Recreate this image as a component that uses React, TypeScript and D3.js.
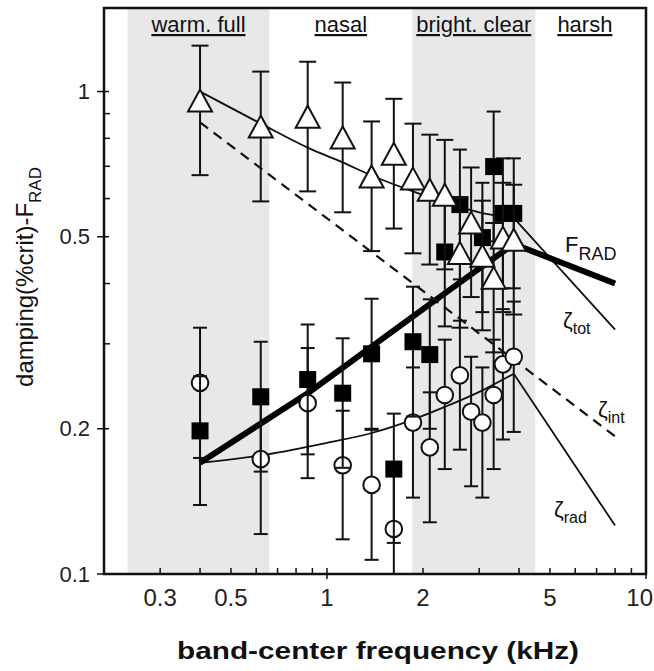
import React from "react";
import * as d3 from "d3";

// ---------- data ----------
const FREQ = [0.4, 0.62, 0.87, 1.12, 1.38, 1.62, 1.86, 2.1, 2.34, 2.61, 2.83, 3.07, 3.33, 3.56, 3.85];

// open triangles (measured total damping)
const TRI = [0.958, 0.846, 0.887, 0.803, 0.667, 0.743, 0.66, 0.626, 0.611, 0.463, 0.535, 0.457, 0.411, 0.498, 0.493];
const TRI_LO = [0.671, 0.592, 0.621, 0.562, 0.467, 0.52, 0.462, 0.438, 0.428, 0.324, 0.375, 0.32, 0.288, 0.349, 0.345];
const TRI_HI = [1.245, 1.1, 1.153, 1.044, 0.867, 0.966, 0.858, 0.814, 0.794, 0.602, 0.696, 0.594, 0.534, 0.647, 0.641];

// filled squares (F_RAD)
const SQ = [0.198, 0.233, 0.253, 0.237, 0.286, 0.165, 0.303, 0.285, 0.465, 0.583, null, 0.498, 0.699, 0.559, 0.559];
const SQ_LO = [0.139, 0.163, 0.177, 0.166, 0.2, 0.116, 0.212, 0.2, 0.326, 0.408, null, 0.349, 0.489, 0.391, 0.391];
const SQ_HI = [0.257, 0.303, 0.329, 0.308, 0.372, 0.215, 0.394, 0.371, 0.605, 0.758, null, 0.647, 0.909, 0.727, 0.727];

// open circles (radiation damping)
const CIR = [0.249, 0.173, 0.226, 0.168, 0.153, 0.124, 0.206, 0.183, 0.235, 0.258, 0.217, 0.206, 0.235, 0.272, 0.282];
const CIR_LO = [0.174, 0.121, 0.158, 0.118, 0.107, 0.087, 0.144, 0.128, 0.165, 0.181, 0.152, 0.144, 0.165, 0.19, 0.197];
const CIR_HI = [0.324, 0.225, 0.294, 0.218, 0.199, 0.161, 0.268, 0.238, 0.306, 0.335, 0.282, 0.268, 0.306, 0.354, 0.367];

// model curves: rising part (smooth) and falling part (straight) above the peak
const ZTOT_F = [0.4, 0.62, 0.87, 1.12, 1.38, 1.86, 2.34, 3.0, 3.85];
const ZTOT_V = [1.0, 0.858, 0.765, 0.713, 0.67, 0.621, 0.589, 0.562, 0.547];
const ZTOT_TAIL_F = [3.85, 8];
const ZTOT_TAIL_V = [0.547, 0.321];
const ZINT_F = [0.4, 8];
const ZINT_V = [0.863, 0.193];
const ZRAD_F = [0.4, 0.65, 1.0, 1.38, 1.86, 2.34, 3.06, 3.85];
const ZRAD_V = [0.17, 0.177, 0.187, 0.196, 0.209, 0.222, 0.24, 0.26];
const ZRAD_TAIL_F = [3.85, 8];
const ZRAD_TAIL_V = [0.26, 0.126];
const FRAD_F = [0.4, 0.87, 1.38, 2.0, 2.83, 3.85];
const FRAD_V = [0.17, 0.237, 0.296, 0.354, 0.418, 0.483];
const FRAD_TAIL_F = [3.85, 8];
const FRAD_TAIL_V = [0.483, 0.4];

// regions
const REGION_LABELS = ["warm. full", "nasal", "bright. clear", "harsh"];
const REGION_FROM = [0.237, 0.66, 1.85, 4.5];
const REGION_TO = [0.66, 1.85, 4.5, 9.2];
const REGION_SHADED = [true, false, true, false];

// ticks
const Y_MAJOR = [0.1, 0.2, 0.5, 1];
const Y_MINOR = [0.3, 0.4, 0.6, 0.7, 0.8, 0.9];
const X_MAJOR = [0.3, 0.5, 1, 2, 5, 10];
const X_MINOR = [0.4, 0.6, 0.7, 0.8, 0.9, 3, 4, 6, 7, 8, 9];

const FONT = "'Liberation Sans', Arial, Helvetica, sans-serif";

export default function App() {
  const W = 654, H = 671;
  const L = 104, R = 646, T = 8, B = 574;
  const x = d3.scaleLog().domain([0.2, 10]).range([L, R]);
  const y = d3.scaleLog().domain([0.1, 1.49]).range([B, T]);

  const mkLine = (fs: number[], vs: number[], smooth: boolean) =>
    d3.line<number>().x((_, i) => x(fs[i])).y((v) => y(v))
      .curve(smooth ? d3.curveMonotoneX : d3.curveLinear)(vs) || "";

  const errBars = (vals: (number | null)[], lo: (number | null)[], hi: (number | null)[], cap: number, key: string) =>
    vals.map((v, i) => {
      if (v == null) return null;
      const cx = x(FREQ[i]);
      const yl = y(Math.max(lo[i] as number, 0.1));
      const yh = y(hi[i] as number);
      return (
        <g key={key + i} stroke="#111" strokeWidth={2}>
          <line x1={cx} x2={cx} y1={yh} y2={yl} />
          <line x1={cx - cap / 2} x2={cx + cap / 2} y1={yh} y2={yh} />
          {(lo[i] as number) >= 0.1 && <line x1={cx - cap / 2} x2={cx + cap / 2} y1={yl} y2={yl} />}
        </g>
      );
    });

  return (
    <svg width={W} height={H} style={{ position: "absolute", left: 0, top: 0, background: "#fff" }} fontFamily={FONT}>
      <defs>
        <clipPath id="plot">
          <rect x={L} y={T} width={R - L} height={B - T} />
        </clipPath>
      </defs>
      {/* shaded bands */}
      {REGION_LABELS.map((lab, i) =>
        REGION_SHADED[i] ? (
          <rect key={"band" + i} x={x(REGION_FROM[i])} y={T} width={x(REGION_TO[i]) - x(REGION_FROM[i])} height={B - T} fill="#e8e8e8" />
        ) : null
      )}
      {/* region labels */}
      {REGION_LABELS.map((lab, i) => (
        <text key={"rl" + i} x={(x(REGION_FROM[i]) + x(REGION_TO[i])) / 2} y={32}
          textAnchor="middle" fontSize={22} textDecoration="underline" fill="#111">{lab}</text>
      ))}

      <g clipPath="url(#plot)" fill="none">
        <path d={mkLine(ZINT_F, ZINT_V, false)} stroke="#111" strokeWidth={2.2} strokeDasharray="10,7" />
        <path d={mkLine(ZTOT_F, ZTOT_V, true)} stroke="#111" strokeWidth={1.8} />
        <path d={mkLine(ZTOT_TAIL_F, ZTOT_TAIL_V, false)} stroke="#111" strokeWidth={1.8} />
        <path d={mkLine(ZRAD_F, ZRAD_V, true)} stroke="#111" strokeWidth={1.8} />
        <path d={mkLine(ZRAD_TAIL_F, ZRAD_TAIL_V, false)} stroke="#111" strokeWidth={1.8} />
        <path d={mkLine(FRAD_F, FRAD_V, false)} stroke="#000" strokeWidth={6} strokeLinejoin="round" />
        <path d={mkLine(FRAD_TAIL_F, FRAD_TAIL_V, false)} stroke="#000" strokeWidth={6} />
      </g>

      <g clipPath="url(#plot)">
        {errBars(CIR, CIR_LO, CIR_HI, 14, "ce")}
        {CIR.map((v, i) => (
          <circle key={"c" + i} cx={x(FREQ[i])} cy={y(v)} r={8.3} fill="#fff" stroke="#111" strokeWidth={2} />
        ))}
        {errBars(SQ, SQ_LO, SQ_HI, 14, "se")}
        {SQ.map((v, i) =>
          v == null ? null : <rect key={"s" + i} x={x(FREQ[i]) - 8.5} y={y(v) - 8.5} width={17} height={17} fill="#000" />
        )}
        {errBars(TRI, TRI_LO, TRI_HI, 17, "te")}
        {TRI.map((v, i) => {
          const cx = x(FREQ[i]), cy = y(v);
          return (
            <path key={"t" + i} d={`M${cx},${cy - 11} L${cx + 12},${cy + 11} L${cx - 12},${cy + 11} Z`}
              fill="#fff" stroke="#111" strokeWidth={2} strokeLinejoin="miter" />
          );
        })}
      </g>

      {/* frame */}
      <rect x={L} y={T} width={R - L} height={B - T} fill="none" stroke="#111" strokeWidth={2.5} />

      {/* y ticks */}
      {Y_MAJOR.map((v) => (
        <g key={"ym" + v}>
          <line x1={L - 7} x2={L + 5} y1={y(v)} y2={y(v)} stroke="#111" strokeWidth={1.5} />
          <text x={L - 14} y={y(v)} dy="0.35em" textAnchor="end" fontSize={22} fill="#222">{String(v)}</text>
        </g>
      ))}
      {Y_MINOR.map((v) => (
        <line key={"yn" + v} x1={L} x2={L + 6} y1={y(v)} y2={y(v)} stroke="#111" strokeWidth={1.5} />
      ))}
      {/* x ticks */}
      {X_MAJOR.map((v) => (
        <g key={"xm" + v}>
          <line x1={x(v)} x2={x(v)} y1={B - 6} y2={v === 1 || v === 10 ? B + 5 : B} stroke="#111" strokeWidth={1.5} />
          <text x={v === 10 ? W - 1 : x(v)} y={606} textAnchor={v === 10 ? "end" : "middle"} fontSize={24} fill="#222">{String(v)}</text>
        </g>
      ))}
      {X_MINOR.map((v) => (
        <line key={"xn" + v} x1={x(v)} x2={x(v)} y1={B - 6} y2={B} stroke="#111" strokeWidth={1.5} />
      ))}

      {/* curve labels */}
      <text x={565} y={252} fontSize={22} fill="#111">F<tspan fontSize={18} dy={8}>RAD</tspan></text>
      <text x={563} y={328} fontSize={22} fill="#111">ζ<tspan fontSize={16} dy={6}>tot</tspan></text>
      <text x={598} y={417} fontSize={22} fill="#111">ζ<tspan fontSize={16} dy={6}>int</tspan></text>
      <text x={554} y={517} fontSize={22} fill="#111">ζ<tspan fontSize={16} dy={6}>rad</tspan></text>

      {/* axis titles */}
      <text x={378} y={659} textAnchor="middle" fontSize={24} fontWeight="bold" fill="#111" textLength={402} lengthAdjust="spacingAndGlyphs">
        band-center frequency (kHz)
      </text>
      <text transform="translate(33,277) rotate(-90)" textAnchor="middle" fontSize={24} fill="#111">
        damping(%crit)-F<tspan fontSize={17} dy={8}>RAD</tspan>
      </text>
    </svg>
  );
}
